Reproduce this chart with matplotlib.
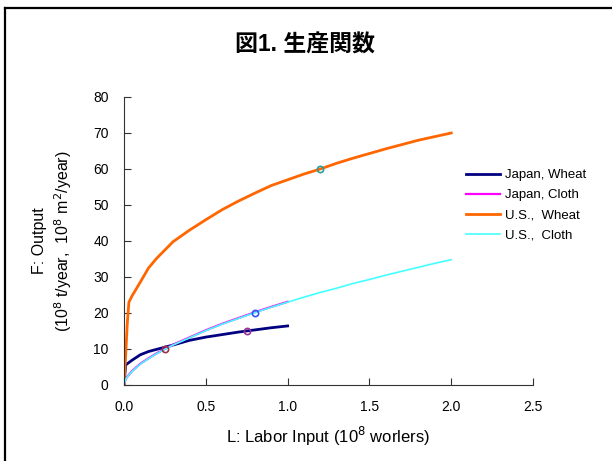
import matplotlib.pyplot as plt
from matplotlib.lines import Line2D

plt.rcParams['font.family'] = ['Liberation Sans', 'Noto Sans CJK JP']

# labor input (10^8 workers) and output for each country / good
L_jp = [0, 0.01, 0.02, 0.05, 0.1, 0.15, 0.2, 0.3, 0.4, 0.5, 0.6, 0.7, 0.8, 0.9, 1.0]
F_jp_wheat = [0, 5.5, 5.9, 6.9, 8.4, 9.3, 9.9, 11.1, 12.4, 13.3, 14.0, 14.7, 15.3, 15.9, 16.4]
F_jp_cloth = [0, 1.6, 2.3, 3.9, 5.9, 7.4, 8.8, 11.2, 13.2, 15.2, 17.0, 18.6, 20.2, 21.7, 23.1]

L_us = [0, 0.01, 0.02, 0.03, 0.05, 0.1, 0.15, 0.2, 0.3, 0.4, 0.5, 0.6, 0.7, 0.8,
        0.9, 1.0, 1.1, 1.2, 1.3, 1.4, 1.5, 1.6, 1.7, 1.8, 1.9, 2.0]
F_us_wheat = [0, 8, 17, 23, 24.8, 28.6, 32.5, 35.2, 39.8, 43.0, 45.9, 48.7, 51.1, 53.3,
              55.4, 57.0, 58.6, 60.0, 61.6, 63.0, 64.3, 65.6, 66.8, 68.0, 69.0, 70.0]
F_us_cloth = [0, 1.5, 2.2, 2.8, 3.8, 5.8, 7.3, 8.7, 11.1, 13.1, 15.1, 16.9, 18.5, 20.1,
              21.6, 23.0, 24.4, 25.7, 26.9, 28.2, 29.3, 30.5, 31.6, 32.7, 33.8, 34.8]

# highlighted points (L, F, colour)
pts_L = [1.2, 0.8, 0.75, 0.25]
pts_F = [60, 20, 15, 10]
pts_c = ['#2a9d9d', '#3355ff', '#993399', '#993344']

fig = plt.figure(figsize=(6.12, 4.61), dpi=100)
ax = fig.add_axes([0.2026, 0.1649, 0.6684, 0.6247])

ax.plot(L_jp, F_jp_wheat, color='#000080', lw=2.0, label='Japan, Wheat')
ax.plot(L_jp, F_jp_cloth, color='#ff00ff', lw=1.6, label='Japan, Cloth')
ax.plot(L_us, F_us_wheat, color='#ff6600', lw=2.0, label='U.S.,  Wheat')
ax.plot(L_us, F_us_cloth, color='#44ffff', lw=1.2, label='U.S.,  Cloth')

for x, y, c in zip(pts_L, pts_F, pts_c):
    ax.plot(x, y, 'o', ms=4.5, mfc='none', mec=c, mew=1.2)

ax.set_xlim(0, 2.5)
ax.set_ylim(0, 80)
ax.set_xticks([0, 0.5, 1.0, 1.5, 2.0, 2.5])
ax.set_xticklabels(['0.0', '0.5', '1.0', '1.5', '2.0', '2.5'])
ax.set_yticks(range(0, 81, 10))
ax.tick_params(direction='in', length=5, labelsize=10, pad=11, color='#333333')
for s in ['top', 'right']:
    ax.spines[s].set_visible(False)
for s in ['left', 'bottom']:
    ax.spines[s].set_color('#333333')

ax.set_xlabel('L: Labor Input (10$^8$ worlers)', fontsize=12, labelpad=8)
ax.set_ylabel('F: Output\n(10$^8$ t/year,  10$^8$ m$^2$/year)', fontsize=11.5,
              labelpad=14, linespacing=1.3)

fig.text(0.498, 0.902, '図1. 生産関数', ha='center', va='center',
         fontsize=16.5, fontweight='bold')

ax.legend(loc='upper left', bbox_to_anchor=(0.835, 0.75), frameon=False,
          borderaxespad=0, borderpad=0,
          fontsize=9.5, handlelength=2.6, handletextpad=0.4, labelspacing=0.6)

# outer frame
fig.add_artist(Line2D([5 / 612, 5 / 612], [0, 1 - 8 / 461], color='black', lw=1.6,
                      transform=fig.transFigure))
fig.add_artist(Line2D([5 / 612, 1], [1 - 8 / 461, 1 - 8 / 461], color='black', lw=1.6,
                      transform=fig.transFigure))

fig.savefig('out.png', dpi=100)
